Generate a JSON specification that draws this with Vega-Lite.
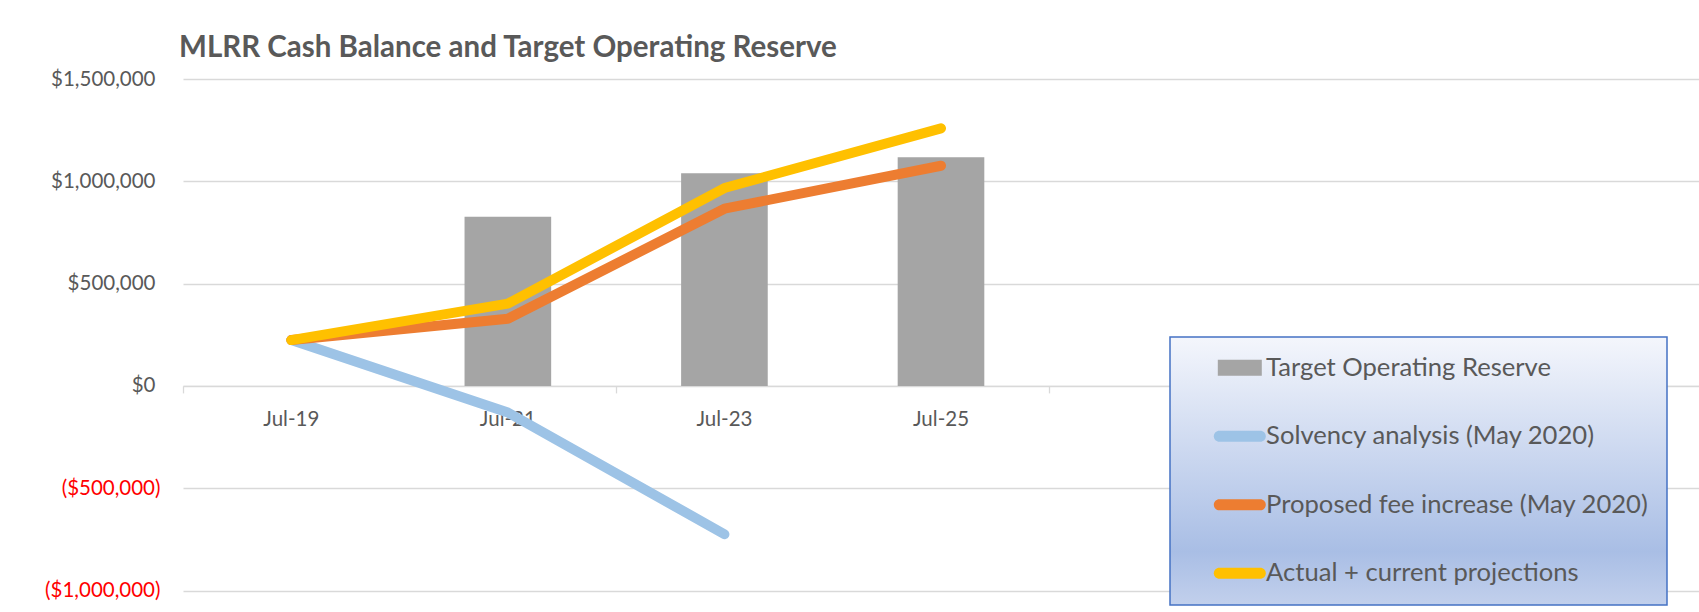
{
  "$schema": "https://vega.github.io/schema/vega-lite/v6.json",
  "width": 1516,
  "height": 511.5,
  "autosize": {"type": "none"},
  "padding": {"left": 183, "top": 79, "right": 0, "bottom": 21.5},
  "background": "white",
  "config": {"view": {"stroke": null}},
  "title": {
    "text": "MLRR Cash Balance and Target Operating Reserve",
    "anchor": "start",
    "frame": "group",
    "font": "Lato",
    "fontSize": 29.5,
    "fontWeight": "bold",
    "color": "#595959",
    "offset": 6,
    "dx": -4
  },
  "data": {
    "values": [
      {"date": "Jul-21", "series": "Target Operating Reserve", "value": 827000},
      {"date": "Jul-23", "series": "Target Operating Reserve", "value": 1039000},
      {"date": "Jul-25", "series": "Target Operating Reserve", "value": 1117000},
      {"date": "Jul-19", "series": "Solvency analysis (May 2020)", "value": 224000},
      {"date": "Jul-21", "series": "Solvency analysis (May 2020)", "value": -130000},
      {"date": "Jul-23", "series": "Solvency analysis (May 2020)", "value": -725000},
      {"date": "Jul-19", "series": "Proposed fee increase (May 2020)", "value": 224000},
      {"date": "Jul-21", "series": "Proposed fee increase (May 2020)", "value": 328000},
      {"date": "Jul-23", "series": "Proposed fee increase (May 2020)", "value": 866000},
      {"date": "Jul-25", "series": "Proposed fee increase (May 2020)", "value": 1076000},
      {"date": "Jul-19", "series": "Actual + current projections", "value": 224000},
      {"date": "Jul-21", "series": "Actual + current projections", "value": 402000},
      {"date": "Jul-23", "series": "Actual + current projections", "value": 967000},
      {"date": "Jul-25", "series": "Actual + current projections", "value": 1259000}
    ]
  },
  "encoding": {
    "x": {
      "field": "date",
      "type": "nominal",
      "sort": null,
      "scale": {
        "type": "band",
        "domain": ["Jul-19", "Jul-21", "Jul-23", "Jul-25", " ", "  ", "   "],
        "paddingInner": 0,
        "paddingOuter": 0
      },
      "axis": {
        "title": null,
        "offset": -204.6,
        "grid": false,
        "labelAngle": 0,
        "domainColor": "#D9D9D9",
        "domainWidth": 1.3,
        "bandPosition": 0,
        "tickColor": "#D9D9D9",
        "tickWidth": 1.3,
        "tickSize": 7,
        "tickOpacity": {
          "condition": {"test": "datum.value === 'Jul-19' || datum.value === 'Jul-23' || datum.value === ' ' || datum.value === '   '", "value": 1},
          "value": 0
        },
        "labelFont": "Lato",
        "labelFontSize": 20.5,
        "labelColor": "#595959",
        "labelPadding": 17
      }
    },
    "y": {
      "field": "value",
      "type": "quantitative",
      "scale": {"domain": [-1000000, 1500000], "nice": false, "zero": false},
      "axis": {
        "title": null,
        "values": [-1000000, -500000, 0, 500000, 1000000, 1500000],
        "domain": false,
        "ticks": false,
        "grid": true,
        "gridColor": "#D9D9D9",
        "gridWidth": 1.3,
        "labelFont": "Lato",
        "labelFontSize": 20.5,
        "labelPadding": {"condition": {"test": "datum.value < 0", "value": 23}, "value": 28},
        "labelColor": {"condition": {"test": "datum.value < 0", "value": "#FF0000"}, "value": "#595959"},
        "labelExpr": "datum.value < 0 ? '(' + format(-datum.value, '$,') + ')' : format(datum.value, '$,')"
      }
    },
    "color": {
      "field": "series",
      "type": "nominal",
      "scale": {
        "domain": ["Target Operating Reserve", "Solvency analysis (May 2020)", "Proposed fee increase (May 2020)", "Actual + current projections"],
        "range": ["#A5A5A5", "#9DC3E6", "#ED7D31", "#FFC000"]
      },
      "legend": null
    }
  },
  "resolve": {"legend": {"color": "independent", "shape": "independent"}},
  "layer": [
    {
      "transform": [{"filter": "datum.series === 'Target Operating Reserve'"}],
      "mark": {"type": "bar", "width": {"band": 0.4}}
    },
    {
      "transform": [{"filter": "datum.series !== 'Target Operating Reserve'"}],
      "mark": {"type": "line", "strokeWidth": 10, "strokeCap": "round", "strokeJoin": "round"}
    },
    {
      "mark": {"type": "point", "filled": true, "opacity": 0},
      "encoding": {
        "color": {
          "field": "series",
          "type": "nominal",
          "legend": {
            "title": null,
            "orient": "none",
            "legendX": 987,
            "legendY": 258,
            "padding": 18,
            "rowPadding": 41.5,
            "symbolSize": 400,
            "symbolOffset": 39,
            "labelOffset": 13.5,
            "symbolStrokeWidth": 0,
            "symbolOpacity": 1,
            "labelFont": "Lato",
            "labelFontSize": 25.6,
            "labelColor": "#595959",
            "labelLimit": 700,
            "labelExpr": "datum.label + '\u00a0\u00a0\u00a0\u00a0'",
            "strokeColor": "#4472C4",
            "encode": {
              "legend": {
                "update": {
                  "fill": {"value": {"gradient": "linear", "x1": 0, "y1": 0, "x2": 0, "y2": 1, "stops": [{"offset": 0, "color": "#F4F6FC"}, {"offset": 0.8, "color": "#A9BEE5"}, {"offset": 1, "color": "#C2D0EC"}]}},
                  "stroke": {"value": "#4472C4"},
                  "strokeWidth": {"value": 1.5}
                }
              }
            }
          }
        },
        "shape": {
          "field": "series",
          "type": "nominal",
          "scale": {
            "domain": ["Target Operating Reserve", "Solvency analysis (May 2020)", "Proposed fee increase (May 2020)", "Actual + current projections"],
            "range": [
              "M-2.2,-0.8H2.2V0.8H-2.2Z",
              "M-2.05,-0.55H2.05A0.55,0.55,0,0,1,2.05,0.55H-2.05A0.55,0.55,0,0,1,-2.05,-0.55Z",
              "M-2.05,-0.55H2.05A0.55,0.55,0,0,1,2.05,0.55H-2.05A0.55,0.55,0,0,1,-2.05,-0.55Z",
              "M-2.05,-0.55H2.05A0.55,0.55,0,0,1,2.05,0.55H-2.05A0.55,0.55,0,0,1,-2.05,-0.55Z"
            ]
          },
          "legend": {
            "title": null,
            "orient": "none",
            "legendX": 987,
            "legendY": 258
          }
        }
      }
    }
  ]
}
